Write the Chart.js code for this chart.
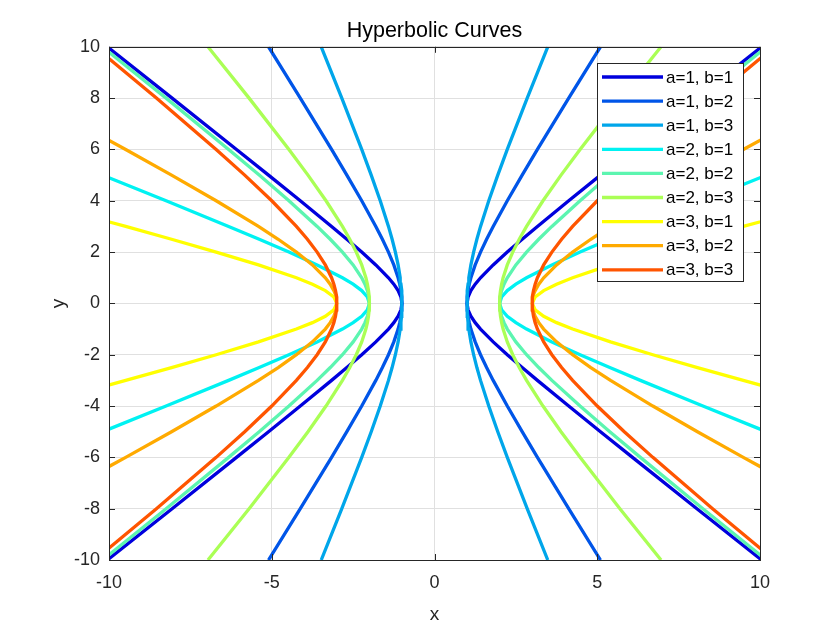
<!DOCTYPE html>
<html>
<head>
<meta charset="utf-8">
<title>Hyperbolic Curves</title>
<script src="https://cdn.jsdelivr.net/npm/chart.js@4/dist/chart.umd.min.js"></script>
<style>
  html, body { margin: 0; padding: 0; background: #fff; }
  #wrap { width: 840px; height: 630px; }
</style>
</head>
<body>
<div id="wrap"><canvas id="chart" width="840" height="630"></canvas></div>
<script>
//---data: y samples (upper half) and the right-branch x for each curve---
const ySamples = [0, 0.25, 0.5, 0.75, 1, 1.5, 2, 2.5, 3, 4, 5, 6, 8, 10];

const xA1B1 = [1, 1.031, 1.118, 1.25, 1.414, 1.803, 2.236, 2.693, 3.162, 4.123, 5.099, 6.083, 8.062, 10.05];
const xA1B2 = [1, 1.008, 1.031, 1.068, 1.118, 1.25, 1.414, 1.601, 1.803, 2.236, 2.693, 3.162, 4.123, 5.099];
const xA1B3 = [1, 1.003, 1.014, 1.031, 1.054, 1.118, 1.202, 1.302, 1.414, 1.667, 1.944, 2.236, 2.848, 3.480];
const xA2B1 = [2, 2.062, 2.236, 2.5, 2.828, 3.606, 4.472, 5.385, 6.325, 8.246, 10.198, 12.166, 16.125, 20.1];
const xA2B2 = [2, 2.016, 2.062, 2.136, 2.236, 2.5, 2.828, 3.202, 3.606, 4.472, 5.385, 6.325, 8.246, 10.198];
const xA2B3 = [2, 2.007, 2.028, 2.062, 2.108, 2.236, 2.404, 2.603, 2.828, 3.333, 3.887, 4.472, 5.696, 6.960];
const xA3B1 = [3, 3.092, 3.354, 3.75, 4.243, 5.408, 6.708, 8.078, 9.487, 12.369, 15.297, 18.248, 24.187, 30.15];
const xA3B2 = [3, 3.023, 3.092, 3.204, 3.354, 3.75, 4.243, 4.802, 5.408, 6.708, 8.078, 9.487, 12.369, 15.297];
const xA3B3 = [3, 3.010, 3.041, 3.092, 3.162, 3.354, 3.606, 3.905, 4.243, 5.0, 5.831, 6.708, 8.544, 10.440];

const curveLabels = ['a=1, b=1', 'a=1, b=2', 'a=1, b=3', 'a=2, b=1', 'a=2, b=2', 'a=2, b=3', 'a=3, b=1', 'a=3, b=2', 'a=3, b=3'];
const curveX = [xA1B1, xA1B2, xA1B3, xA2B1, xA2B2, xA2B3, xA3B1, xA3B2, xA3B3];
const curveColors = ['#0000dd', '#0055e8', '#00a6ea', '#00f2f2', '#5cf5b0', '#aaff55', '#ffff00', '#ffaa00', '#ff5500'];

const xTicks = [-10, -5, 0, 5, 10];
const yTicks = [-10, -8, -6, -4, -2, 0, 2, 4, 6, 8, 10];

//-------------------Functions-------------------
function branchPoints(xs, side){ //side = 1 for right branch, -1 for left
  const pts = [];
  for (var i = ySamples.length - 1; i > 0; i--) pts.push({x: side * xs[i], y: -ySamples[i]});
  for (var i = 0; i < ySamples.length; i++) pts.push({x: side * xs[i], y: ySamples[i]});
  return pts;
}

const FONT = '"Liberation Sans", Arial, Helvetica, sans-serif';
const AXIS_COLOR = '#262626';

// box, inward ticks and the legend inside the axes, like the original figure
const axesDecor = {
  id: 'axesDecor',
  afterDatasetsDraw(chart){
    const ctx = chart.ctx;
    const a = chart.chartArea;
    const xs = chart.scales.x, ys = chart.scales.y;
    ctx.save();
    ctx.strokeStyle = AXIS_COLOR;
    ctx.lineWidth = 1;
    ctx.beginPath();
    xTicks.forEach(v => {
      const px = Math.round(xs.getPixelForValue(v)) + 0.5;
      ctx.moveTo(px, a.bottom); ctx.lineTo(px, a.bottom - 6);
      ctx.moveTo(px, a.top); ctx.lineTo(px, a.top + 6);
    });
    yTicks.forEach(v => {
      const py = Math.round(ys.getPixelForValue(v)) + 0.5;
      ctx.moveTo(a.left, py); ctx.lineTo(a.left + 6, py);
      ctx.moveTo(a.right, py); ctx.lineTo(a.right - 6, py);
    });
    ctx.stroke();
    ctx.strokeRect(Math.round(a.left) + 0.5, Math.round(a.top) + 0.5, Math.round(a.right - a.left), Math.round(a.bottom - a.top));

    // legend
    const lx = 597, ly = 63, lw = 146, lh = 218, row = 24.1;
    ctx.fillStyle = '#fff';
    ctx.fillRect(lx, ly, lw, lh);
    ctx.strokeRect(lx + 0.5, ly + 0.5, lw, lh);
    ctx.font = '17px ' + FONT;
    ctx.textBaseline = 'middle';
    ctx.textAlign = 'left';
    for (var i = 0; i < curveLabels.length; i++){
      const cy = ly + 14 + i * row;
      ctx.strokeStyle = curveColors[i];
      ctx.lineWidth = 3.3;
      ctx.beginPath();
      ctx.moveTo(lx + 5, cy); ctx.lineTo(lx + 66, cy);
      ctx.stroke();
      ctx.fillStyle = '#000';
      ctx.fillText(curveLabels[i], lx + 69, cy + 1);
    }
    ctx.restore();
  }
};

//-------------------Chart-------------------
const datasets = [];
for (var i = 0; i < curveX.length; i++){
  [1, -1].forEach(side => {
    datasets.push({
      label: curveLabels[i],
      data: branchPoints(curveX[i], side),
      borderColor: curveColors[i],
      backgroundColor: curveColors[i],
      borderWidth: 3.3,
      showLine: true,
      pointRadius: 0,
      tension: 0,
      clip: 0,
      order: curveX.length - i
    });
  });
}

new Chart(document.getElementById('chart'), {
  type: 'scatter',
  data: { datasets: datasets },
  plugins: [axesDecor],
  options: {
    responsive: false,
    animation: false,
    events: [],
    layout: { padding: { left: 0, right: 80, top: 0, bottom: 0 } },
    plugins: {
      legend: { display: false },
      tooltip: { enabled: false },
      title: {
        display: true,
        fullSize: false,
        text: 'Hyperbolic Curves',
        color: '#000',
        font: { family: FONT, size: 21.5, weight: 'normal' },
        padding: { top: 18, bottom: 3 }
      }
    },
    scales: {
      x: {
        type: 'linear',
        min: -10, max: 10,
        afterBuildTicks: s => { s.ticks = xTicks.map(v => ({value: v})); },
        afterFit: s => { s.height = 70; },
        ticks: { color: AXIS_COLOR, font: { family: FONT, size: 18 }, padding: 12 },
        grid: { color: '#e0e0e0', drawTicks: false },
        border: { display: false },
        title: { display: true, text: 'x', color: AXIS_COLOR, font: { family: FONT, size: 19 }, padding: { top: 7 } }
      },
      y: {
        type: 'linear',
        min: -10, max: 10,
        afterBuildTicks: s => { s.ticks = yTicks.map(v => ({value: v})); },
        afterFit: s => { s.width = 109; },
        ticks: { color: AXIS_COLOR, font: { family: FONT, size: 18 }, padding: 9 },
        grid: { color: '#e0e0e0', drawTicks: false },
        border: { display: false },
        title: { display: true, text: 'y', color: AXIS_COLOR, font: { family: FONT, size: 19 }, padding: { top: 47, bottom: 0 } }
      }
    }
  }
});
</script>
</body>
</html>
